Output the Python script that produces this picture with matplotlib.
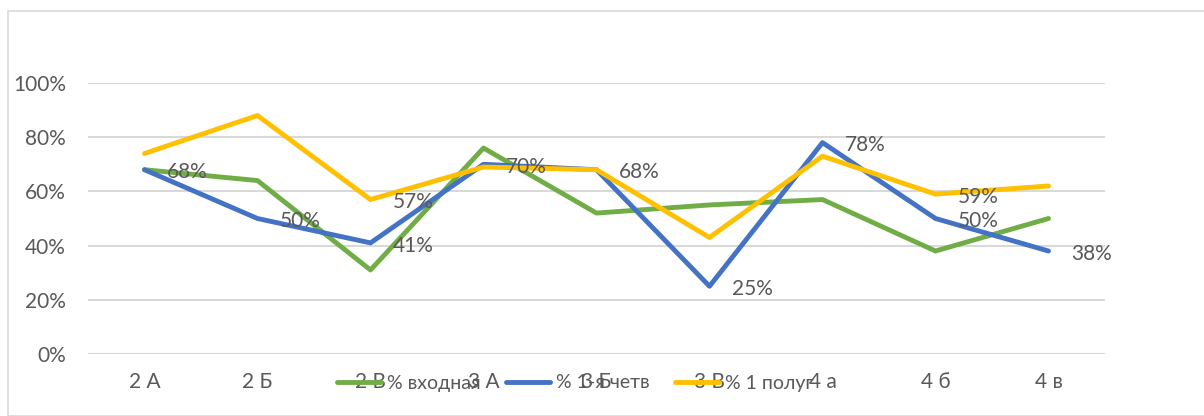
import matplotlib
matplotlib.use("Agg")
import matplotlib.pyplot as plt
from matplotlib.patches import Rectangle
from matplotlib.ticker import PercentFormatter

plt.rcParams["font.family"] = ["Lato", "DejaVu Sans"]

classes = ["2 А", "2 Б", "2 В", "3 А", "3 Б", "3 В", "4 а", "4 б", "4 в"]
entry = [0.68, 0.64, 0.31, 0.76, 0.52, 0.55, 0.57, 0.38, 0.50]
quarter = [0.68, 0.50, 0.41, 0.70, 0.68, 0.25, 0.78, 0.50, 0.38]
halfyear = [0.74, 0.88, 0.57, 0.69, 0.68, 0.43, 0.73, 0.59, 0.62]
halfyear_labelled = [2, 7]  # only these points carry a label

GREEN = "#70AD47"
BLUE = "#4472C4"
YELLOW = "#FFC000"
TEXT = "#595959"
GRID = "#D9D9D9"
FS = 15

W, H = 1204, 416
fig = plt.figure(figsize=(W / 100, H / 100), dpi=100)

# chart area frame
fig.patches.append(Rectangle((8 / W, 0), 1.0, 1 - 11 / H, transform=fig.transFigure,
                             fill=False, edgecolor=GRID, linewidth=1.2))

ax = fig.add_axes([88 / W, (H - 354) / H, (1105 - 88) / W, 271 / H])
x = range(len(classes))

ax.plot(x, entry, color=GREEN, lw=3.5, label="% входная", solid_capstyle="round", zorder=3)
ax.plot(x, quarter, color=BLUE, lw=3.5, label="% 1-я четв", solid_capstyle="round", zorder=4)
ax.plot(x, halfyear, color=YELLOW, lw=3.5, label="% 1 полуг", solid_capstyle="round", zorder=5)

for i, v in enumerate(quarter):
    ax.annotate(f"{v:.0%}", (i, v), xytext=(16, -2), textcoords="offset points",
                ha="left", va="center", fontsize=FS, color=TEXT, zorder=6)
for i in halfyear_labelled:
    ax.annotate(f"{halfyear[i]:.0%}", (i, halfyear[i]), xytext=(16, -2), textcoords="offset points",
                ha="left", va="center", fontsize=FS, color=TEXT, zorder=6)

ax.set_xlim(-0.5, len(classes) - 0.5)
ax.set_ylim(0, 1)
ax.set_yticks([0, 0.2, 0.4, 0.6, 0.8, 1.0])
ax.yaxis.set_major_formatter(PercentFormatter(1.0, decimals=0))
ax.set_xticks(list(x))
ax.set_xticklabels(classes)
ax.grid(axis="y", color=GRID, lw=1.5)
ax.set_axisbelow(True)
for s in ax.spines.values():
    s.set_visible(False)
ax.tick_params(axis="both", length=0, labelsize=FS, colors=TEXT)
ax.tick_params(axis="y", pad=16)
ax.tick_params(axis="x", pad=13)

fig.legend(loc="center", bbox_to_anchor=(575 / W, 1 - 383 / H), ncol=3, frameon=False,
           fontsize=14, handlelength=2.3, handletextpad=0.28, columnspacing=1.3,
           labelcolor=TEXT)

fig.savefig("out.png", dpi=100)
